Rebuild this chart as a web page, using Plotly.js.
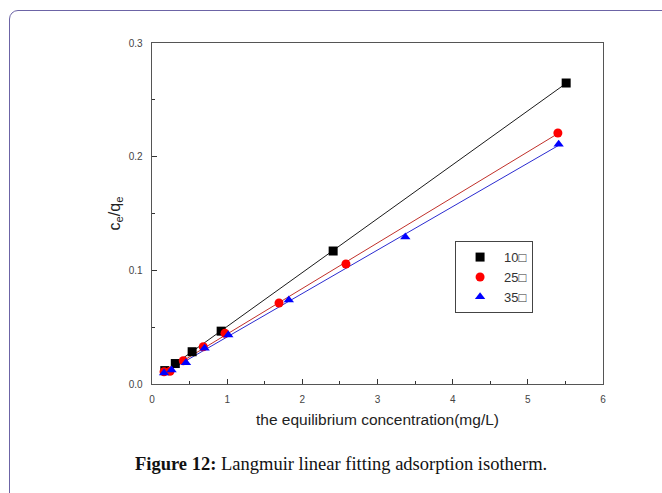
<!DOCTYPE html>
<html>
<head>
<meta charset="utf-8">
<script src="https://cdn.plot.ly/plotly-3.0.1.min.js"></script>
<style>
  html, body { margin: 0; padding: 0; background: #ffffff; }
  #wrap { position: relative; width: 662px; height: 493px; overflow: hidden; }
  #frame {
    position: absolute; left: 9px; top: 10px; width: 720px; height: 600px;
    border: 1.5px solid #6c64a6; border-radius: 9px; box-sizing: border-box;
  }
  #chart { position: absolute; left: 0; top: 0; width: 662px; height: 493px; }
</style>
</head>
<body>
<div id="wrap">
  <div id="frame"></div>
  <div id="chart"></div>
</div>
<script>
// Equilibrium concentration Ce (mg/L) and Ce/qe for each temperature
const ce10 = [0.17, 0.31, 0.534, 0.92, 2.41, 5.51];
const ratio10 = [0.0118, 0.0180, 0.0284, 0.0465, 0.1170, 0.2648];

const ce25 = [0.16, 0.24, 0.416, 0.682, 0.971, 1.69, 2.58, 5.40];
const ratio25 = [0.0108, 0.0112, 0.0205, 0.0328, 0.0446, 0.0713, 0.1056, 0.2208];

const ce35 = [0.16, 0.26, 0.452, 0.70, 1.015, 1.82, 3.37, 5.41];
const ratio35 = [0.0097, 0.0123, 0.0187, 0.0315, 0.0431, 0.0739, 0.1293, 0.2110];

const seriesNames = ['10\u25a1', '25\u25a1', '35\u25a1'];
const xTicks = [0, 1, 2, 3, 4, 5, 6];
const yTicks = [0.0, 0.1, 0.2, 0.3];

// least-squares straight line through a series, spanning its x range
function fitLine(xs, ys) {
  const n = xs.length;
  let sx = 0, sy = 0, sxx = 0, sxy = 0;
  for (let i = 0; i < n; i++) { sx += xs[i]; sy += ys[i]; sxx += xs[i] * xs[i]; sxy += xs[i] * ys[i]; }
  const b = (n * sxy - sx * sy) / (n * sxx - sx * sx);
  const a = (sy - b * sx) / n;
  const x0 = Math.min(...xs), x1 = Math.max(...xs);
  return { x: [x0, x1], y: [a + b * x0, a + b * x1] };
}

const groups = [
  { x: ce10, y: ratio10, name: seriesNames[0], color: '#000000', line: '#1a1a1a', symbol: 'square', size: 9 },
  { x: ce25, y: ratio25, name: seriesNames[1], color: '#ff0000', line: '#c0302a', symbol: 'circle', size: 9 },
  { x: ce35, y: ratio35, name: seriesNames[2], color: '#0000ff', line: '#2b2bd0', symbol: 'triangle-up', size: 9 }
];

const traces = [];
groups.forEach(g => {
  const f = fitLine(g.x, g.y);
  traces.push({
    x: f.x, y: f.y, mode: 'lines', showlegend: false, hoverinfo: 'skip',
    line: { color: g.line, width: 1 }
  });
});
groups.forEach(g => {
  traces.push({
    x: g.x, y: g.y, mode: 'markers', name: g.name,
    marker: { color: g.color, symbol: g.symbol, size: g.size, line: { width: 0 } }
  });
});

const axisCommon = {
  showline: true, mirror: true, linecolor: '#555555', linewidth: 1.3,
  ticks: 'inside', ticklen: 5, tickwidth: 1, tickcolor: '#333333',
  showgrid: false, zeroline: false,
  tickfont: { family: 'Arial, Liberation Sans, sans-serif', size: 10, color: '#444444' }
};

const layout = {
  width: 662, height: 493,
  paper_bgcolor: 'rgba(0,0,0,0)', plot_bgcolor: '#ffffff',
  margin: { l: 152, r: 59, t: 43, b: 109 },
  font: { family: 'Arial, Liberation Sans, sans-serif', color: '#333333' },
  showlegend: true,
  legend: {
    x: 0.672, y: 0.419, xanchor: 'left', yanchor: 'top',
    bordercolor: '#444444', borderwidth: 1, bgcolor: '#ffffff',
    font: { size: 13, color: '#333333' },
    itemwidth: 38, tracegroupgap: 0
  },
  xaxis: Object.assign({}, axisCommon, {
    range: [0, 6], tickvals: xTicks, ticktext: xTicks.map(String),
    minor: { ticks: 'inside', dtick: 0.5, ticklen: 3, tickcolor: '#333333' },
    ticklabelstandoff: 6,
    title: { text: 'the equilibrium concentration(mg/L)', font: { size: 15.5, color: '#222222' }, standoff: 10 }
  }),
  yaxis: Object.assign({}, axisCommon, {
    range: [0, 0.3], tickvals: yTicks, ticktext: yTicks.map(v => v.toFixed(1)),
    minor: { ticks: 'inside', dtick: 0.05, ticklen: 3, tickcolor: '#333333' },
    ticklabelstandoff: 6,
    title: { text: 'c<sub>e</sub>/q<sub>e</sub>', font: { size: 16, color: '#222222' }, standoff: 4 }
  }),
  annotations: [{
    xref: 'paper', yref: 'paper', x: 0.42, y: -0.235, xanchor: 'center', yanchor: 'middle',
    showarrow: false,
    text: '<b>Figure 12:</b> Langmuir linear fitting adsorption isotherm.',
    font: { family: 'Liberation Serif, Times New Roman, serif', size: 18.5, color: '#111111' }
  }]
};

Plotly.newPlot('chart', traces, layout, { displayModeBar: false, staticPlot: true });
</script>
</body>
</html>
